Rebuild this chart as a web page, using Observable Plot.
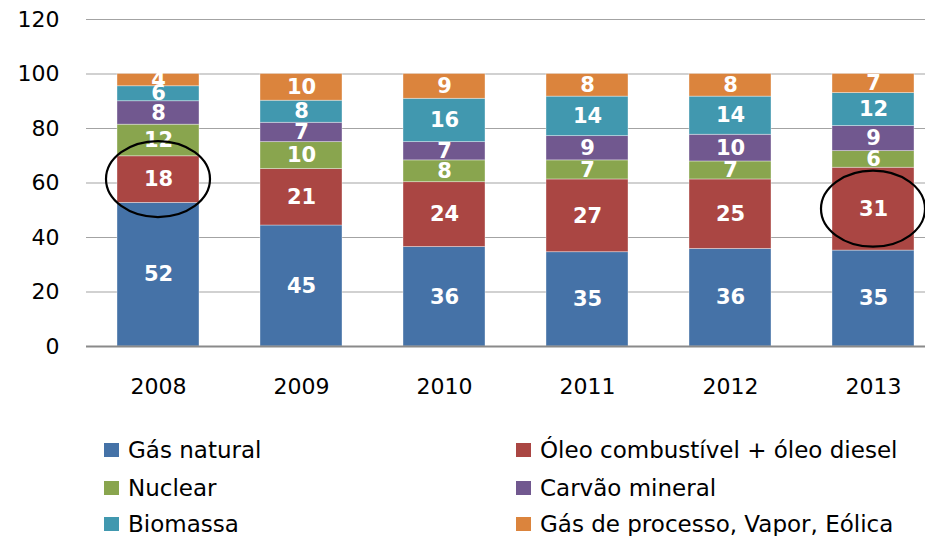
<!DOCTYPE html>
<html>
<head>
<meta charset="utf-8">
<script src="https://cdn.jsdelivr.net/npm/d3@7"></script>
<script src="https://cdn.jsdelivr.net/npm/@observablehq/plot@0.6"></script>
<style>
  html, body { margin: 0; padding: 0; background: #fff; overflow: hidden; }
  #wrap { position: relative; width: 925px; height: 536px; font-family: "DejaVu Sans", sans-serif; }
  #chart svg { display: block; }
  .lg-item { position: absolute; height: 26px; line-height: 26px; display: flex; align-items: center; white-space: nowrap; font-size: 23px; color: #000; }
  .lg-sw { width: 15px; height: 14px; margin-right: 9px; flex: none; }
</style>
</head>
<body>
<div id="wrap">
  <div id="chart"></div>
  <div id="legend"></div>
</div>
<script>
const years = ["2008", "2009", "2010", "2011", "2012", "2013"];
const seriesNames = [
  "Gás natural",
  "Óleo combustível + óleo diesel",
  "Nuclear",
  "Carvão mineral",
  "Biomassa",
  "Gás de processo, Vapor, Eólica"
];
// segment heights (%)
const gasNatural  = [52.7, 44.4, 36.5, 34.6, 35.8, 35.2];
const oleo        = [17.1, 20.7, 23.8, 26.7, 25.5, 30.4];
const nuclear     = [11.6,  9.9,  8.0,  7.0,  6.6,  6.1];
const carvao      = [ 8.6,  7.1,  6.7,  8.9,  9.8,  9.2];
const biomassa    = [ 5.5,  8.1, 15.9, 14.5, 14.0, 12.1];
const gasProcesso = [ 4.5,  9.8,  9.1,  8.3,  8.3,  7.0];
// data labels printed on the segments
const gasNaturalLabels  = [52, 45, 36, 35, 36, 35];
const oleoLabels        = [18, 21, 24, 27, 25, 31];
const nuclearLabels     = [12, 10, 8, 7, 7, 6];
const carvaoLabels      = [8, 7, 7, 9, 10, 9];
const biomassaLabels    = [6, 8, 16, 14, 14, 12];
const gasProcessoLabels = [4, 10, 9, 8, 8, 7];
const colors = ["#4572A7", "#AA4643", "#89A54E", "#71588F", "#4198AF", "#DB843D"];
const yTicks = [0, 20, 40, 60, 80, 100, 120];
const highlightYears = ["2008", "2013"];

const seriesValues = [gasNatural, oleo, nuclear, carvao, biomassa, gasProcesso];
const seriesLabels = [gasNaturalLabels, oleoLabels, nuclearLabels, carvaoLabels, biomassaLabels, gasProcessoLabels];
const rows = [];
seriesNames.forEach((s, si) => {
  years.forEach((y, yi) => rows.push({year: y, series: s, value: seriesValues[si][yi], label: String(seriesLabels[si][yi])}));
});

const chart = Plot.plot({
  width: 925,
  height: 400,
  marginLeft: 86,
  marginRight: -19,
  marginTop: 19,
  marginBottom: 54,
  style: {fontFamily: "DejaVu Sans, sans-serif", fontSize: "22px", color: "#000", background: "#fff"},
  x: {domain: years, paddingInner: 0.427, paddingOuter: 0.2135, tickSize: 0, tickPadding: 32, label: null},
  y: {domain: [0, 120], ticks: yTicks, tickSize: 0, tickPadding: 27, label: null},
  color: {domain: seriesNames, range: colors},
  marks: [
    Plot.ruleY(yTicks.filter(d => d > 0), {stroke: "#a3a3a3", strokeWidth: 1.2}),
    Plot.barY(rows, Plot.stackY({x: "year", y: "value", z: "series", fill: "series", order: null,
      stroke: "#ffffff", strokeOpacity: 0.45, strokeWidth: 0.8})),
    Plot.text(rows, Plot.stackY({x: "year", y: "value", z: "series", order: null, text: "label",
      fill: "#fff", fontWeight: "bold", fontSize: 21})),
    Plot.ruleY([0], {stroke: "#8a8a8a", strokeWidth: 2.2})
  ]
});
document.getElementById("chart").appendChild(chart);

// highlight ellipses around the "Óleo" segment
const xs = chart.scale("x");
const ys = chart.scale("y");
const svg = d3.select(chart.tagName.toLowerCase() === "svg" ? chart : chart.querySelector("svg"));
highlightYears.forEach(y => {
  const i = years.indexOf(y);
  const cx = xs.apply(y) + xs.bandwidth / 2;
  const cy = ys.apply(gasNatural[i] + oleo[i] / 2);
  svg.append("ellipse")
    .attr("cx", cx).attr("cy", cy)
    .attr("rx", 52).attr("ry", 38)
    .attr("fill", "none").attr("stroke", "#000").attr("stroke-width", 2.2);
});

// legend
const legend = document.getElementById("legend");
const colLeft = [104, 516];
const rowCenter = [450, 488, 524];
seriesNames.forEach((s, i) => {
  const col = i % 2, row = Math.floor(i / 2);
  const item = document.createElement("div");
  item.className = "lg-item";
  item.style.left = colLeft[col] + "px";
  item.style.top = (rowCenter[row] - 13) + "px";
  const sw = document.createElement("span");
  sw.className = "lg-sw";
  sw.style.background = colors[i];
  const tx = document.createElement("span");
  tx.textContent = s;
  item.appendChild(sw);
  item.appendChild(tx);
  legend.appendChild(item);
});
</script>
</body>
</html>
